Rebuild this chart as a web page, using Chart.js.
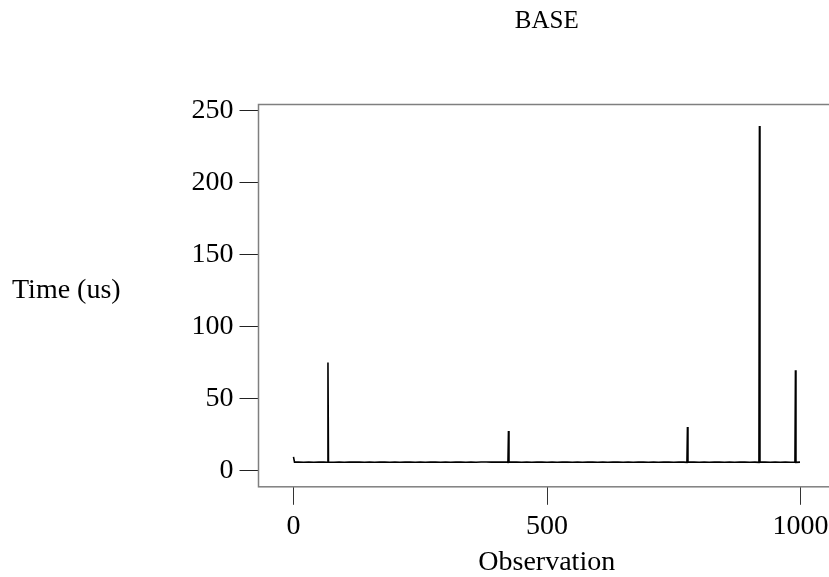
<!DOCTYPE html>
<html>
<head>
<meta charset="utf-8">
<title>BASE</title>
<script src="https://cdn.jsdelivr.net/npm/chart.js@4.4.1/dist/chart.umd.min.js"></script>
<style>
  html, body { margin:0; padding:0; background:#fff; overflow:hidden; }
  #wrap { position:relative; width:1094px; height:577px; }
</style>
</head>
<body>
<div id="wrap"><canvas id="chartBase"></canvas></div>
<script>
  // Observacion (x) y tiempo en us (y)
  const observation = [
    0, 2, 10, 20, 30, 40, 50, 60, 67, 68, 69, 80, 90, 100, 110, 120, 130, 140, 150, 160,
    170, 180, 190, 200, 210, 220, 230, 240, 250, 260, 270, 280, 290, 300, 310, 320, 330, 340,
    350, 360, 370, 380, 390, 400, 410, 420, 423, 424, 425, 430, 440, 450, 460, 470, 480, 490,
    500, 510, 520, 530, 540, 550, 560, 570, 580, 590, 600, 610, 620, 630, 640, 650, 660, 670,
    680, 690, 700, 710, 720, 730, 740, 750, 760, 770, 776, 777, 778, 780, 790, 800, 810, 820,
    830, 840, 850, 860, 870, 880, 890, 900, 910, 918, 919, 920, 930, 940, 950, 960, 970, 980,
    989, 990, 991, 999
  ];
  const timeUs = [
    9.8, 6.1, 6.2, 6.0, 6.1, 6.0, 6.2, 6.1, 6.0, 75.2, 6.1, 6.0, 6.2, 6.0, 6.1, 6.1, 6.2, 6.0, 6.1, 6.0,
    6.2, 6.1, 6.0, 6.1, 6.0, 6.2, 6.1, 6.0, 6.1, 6.0, 6.2, 6.1, 6.0, 6.1, 6.0, 6.2, 6.1, 6.0,
    6.1, 6.0, 6.2, 6.2, 6.1, 6.2, 6.1, 6.1, 6.0, 27.8, 6.1, 6.1, 6.2, 6.0, 6.1, 6.0, 6.2, 6.1,
    6.0, 6.1, 6.0, 6.2, 6.1, 6.0, 6.1, 6.0, 6.2, 6.1, 6.0, 6.1, 6.0, 6.2, 6.1, 6.0, 6.1, 6.0,
    6.2, 6.1, 6.0, 6.1, 6.0, 6.2, 6.1, 6.0, 6.1, 6.1, 6.0, 30.5, 6.1, 6.1, 6.2, 6.0, 6.1, 6.0,
    6.2, 6.1, 6.0, 6.1, 6.0, 6.2, 6.1, 6.0, 6.1, 6.0, 239.4, 6.1, 6.1, 6.0, 6.2, 6.0, 6.1, 6.0,
    6.1, 69.9, 6.0, 6.1
  ];
  const xTicks = [0, 500, 1000];
  const yTicks = [0, 50, 100, 150, 200, 250];

  const serif = '"Liberation Serif", "DejaVu Serif", serif';

  // marco gris, titulo centrado sobre el area y etiqueta horizontal del eje y
  const framePlugin = {
    id: 'frame',
    afterDraw(chart){
      const { ctx, chartArea: a } = chart;
      ctx.save();
      ctx.strokeStyle = '#7f7f7f';
      ctx.lineWidth = 1.5;
      ctx.strokeRect(a.left, a.top, a.right - a.left, a.bottom - a.top);
      ctx.fillStyle = '#000';
      ctx.textBaseline = 'alphabetic';
      ctx.font = '25px ' + serif;
      ctx.textAlign = 'center';
      ctx.fillText('BASE', (a.left + a.right) / 2, 28);
      ctx.font = '28px ' + serif;
      ctx.textAlign = 'left';
      ctx.fillText('Time (us)', 12, 298);
      ctx.restore();
    }
  };

  new Chart(document.getElementById('chartBase'), {
    type: 'line',
    data: {
      datasets: [{
        data: observation.map((o, i) => ({ x: o, y: timeUs[i] })),
        borderColor: '#000',
        borderWidth: 1.6,
        pointRadius: 0,
        tension: 0,
        fill: false
      }]
    },
    options: {
      responsive: true,
      maintainAspectRatio: false,
      animation: false,
      layout: { padding: { left: 185.5, right: 259, top: 104.5, bottom: 0 } },
      plugins: {
        legend: { display: false },
        tooltip: { enabled: false },
        title: { display: false }
      },
      scales: {
        x: {
          type: 'linear', min: -69, max: 1068, position: 'bottom',
          border: { display: false },
          grid: { drawOnChartArea: false, drawTicks: true, tickLength: 18, color: '#333' },
          afterBuildTicks: s => { s.ticks = xTicks.map(v => ({ value: v })); },
          ticks: { color: '#000', padding: 6, font: { family: serif, size: 28, lineHeight: 1.15 }, callback: v => String(v) },
          title: { display: true, text: 'Observation', color: '#000', padding: 0, font: { family: serif, size: 28, lineHeight: 1.0 } }
        },
        y: {
          type: 'linear', min: -11, max: 254.3,
          border: { display: false },
          grid: { drawOnChartArea: false, drawTicks: true, tickLength: 19, color: '#222' },
          afterBuildTicks: s => { s.ticks = yTicks.map(v => ({ value: v })); },
          ticks: { color: '#000', padding: 6, font: { family: serif, size: 28 }, callback: v => String(v) }
        }
      }
    },
    plugins: [framePlugin]
  });
</script>
</body>
</html>
